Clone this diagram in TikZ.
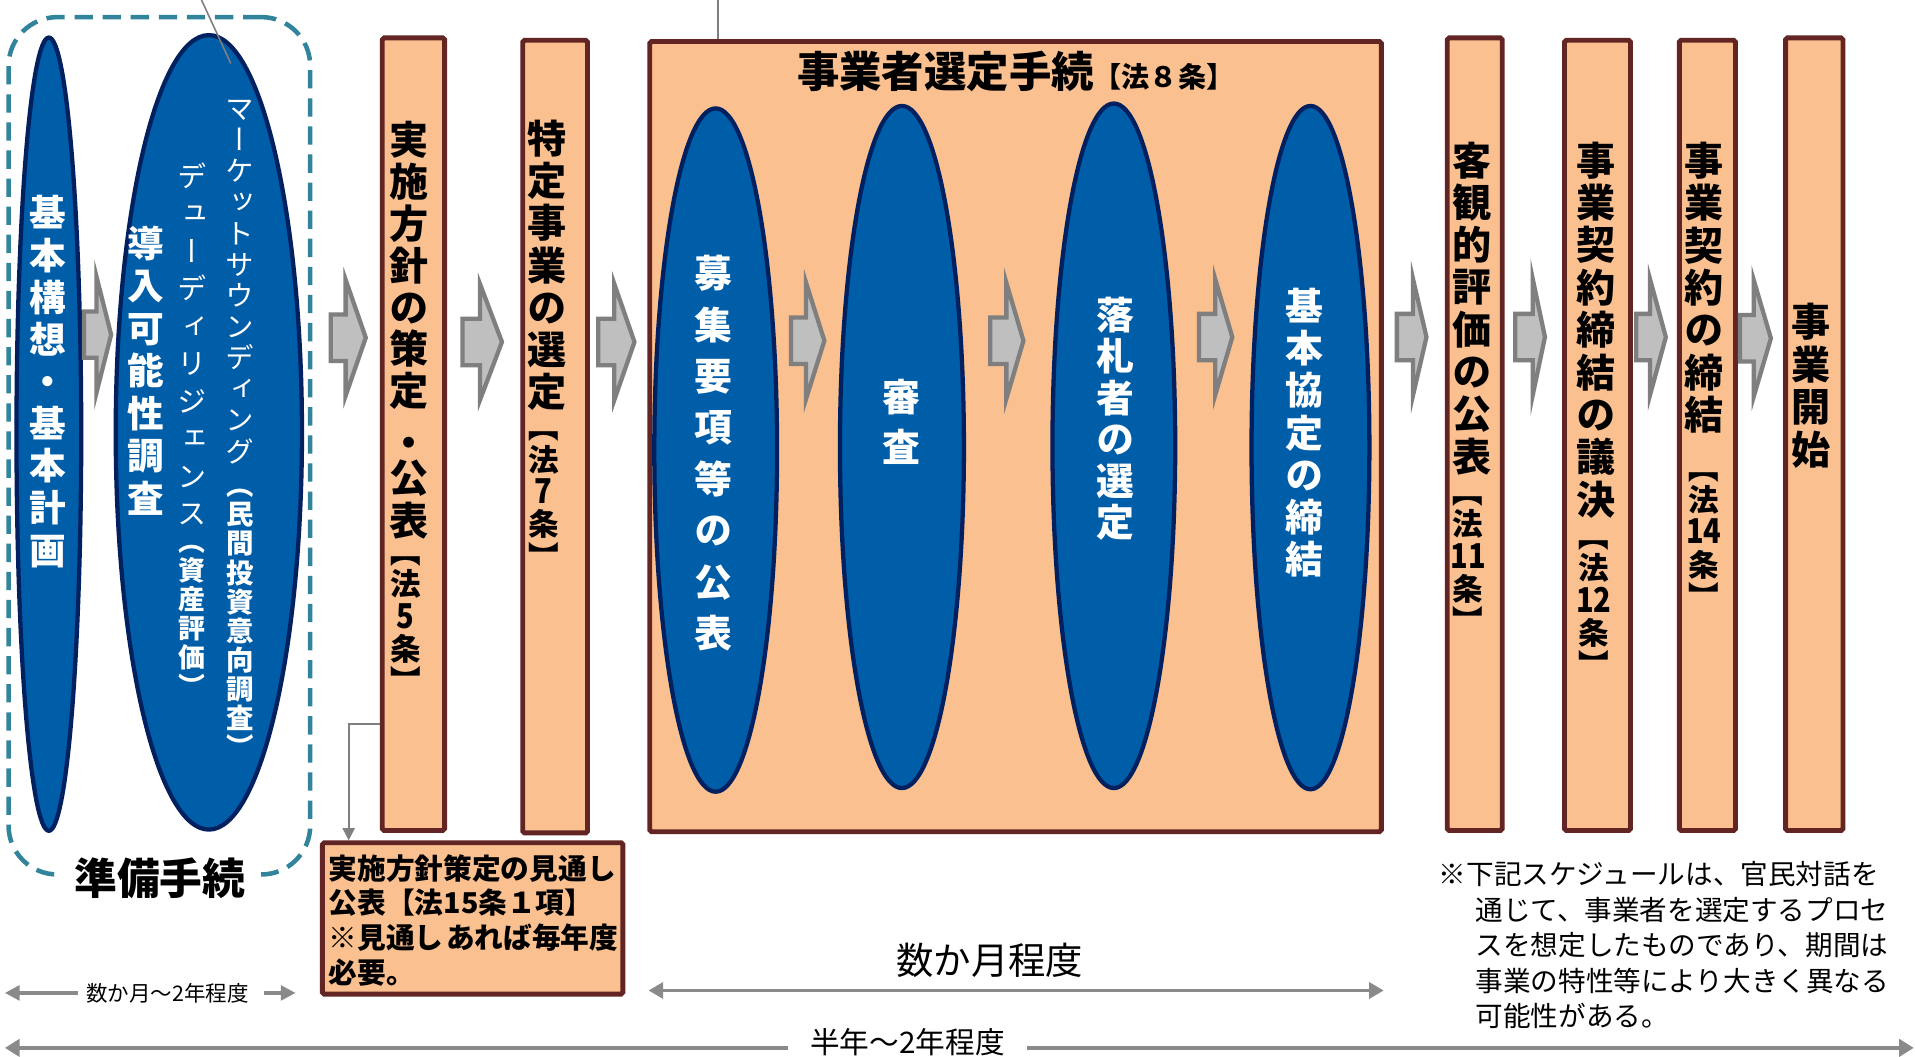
\documentclass[tikz,border=0pt]{standalone}
\usepackage{fontspec}
\usepackage{graphicx}
\setmainfont{Noto Sans CJK JP}
\newfontfamily\vf{Noto Sans CJK JP}[RawFeature=+vert]
\usetikzlibrary{shapes.geometric,arrows.meta}
\definecolor{ellfill}{HTML}{005DA8}
\definecolor{ellline}{HTML}{002060}
\definecolor{boxfill}{HTML}{FAC090}
\definecolor{boxline}{HTML}{632523}
\definecolor{arrfill}{HTML}{BFBFBF}
\definecolor{arrline}{HTML}{7F7F7F}
\definecolor{dashteal}{HTML}{31849B}
\definecolor{lgray}{HTML}{8A8A8A}
\newcommand\vl[1]{\hbox to 1.2em{\hss\vrule height .88em depth .12em width 0pt\relax#1\hss}}
\makeatletter
\def\vt@stop{\vt@stop}
\newcommand\vtxt[3]{\vbox{\vf\fontsize{#1}{#2}\selectfont\baselineskip=#2pt\relax\lineskiplimit=-\maxdimen\lineskip=0pt\relax\vt@a#3\vt@stop}}
\def\vt@a#1{\ifx#1\vt@stop\else\vl{#1}\expandafter\vt@a\fi}
\makeatother
\newcommand\vblock[3]{\vbox{\vf\fontsize{#1}{#2}\selectfont\baselineskip=#2pt\relax\lineskiplimit=-\maxdimen\lineskip=0pt\relax#3}}
\newcommand\tcy[1]{\scalebox{0.95}[1.12]{#1}}
\newcommand\barrow[4]{%
  \draw[barr] ({#1+1.75},{#4-19}) -- ({#2},{#4-19}) -- ({#2},{#4-47.5}) -- ({#3-4},{#4}) -- ({#2},{#4+47.5}) -- ({#2},{#4+19}) -- ({#1+1.75},{#4+19}) -- cycle;}
\begin{document}
\begin{tikzpicture}[x=1pt,y=-1pt,
  ell/.style={ellipse, draw=ellline, fill=ellfill, line width=3.5pt, inner sep=0pt},
  pbox/.style={rectangle, draw=boxline, fill=boxfill, line width=4pt, rounded corners=1.5pt, inner sep=0pt},
  barr/.style={draw=arrline, fill=arrfill, line width=3.5pt, line join=miter},
  vw/.style={anchor=north, inner sep=0pt, text=white, font=\bfseries},
  vwr/.style={anchor=north, inner sep=0pt, text=white},
  vb/.style={anchor=north, inner sep=0pt, text=black, font=\bfseries},
  tline/.style={draw=lgray, line width=3.2pt},
  tsmall/.style={draw=lgray, line width=2.8pt, -{Triangle[length=12pt,width=12pt]}},
  lead/.style={draw=arrline, line width=1.3pt},
  prepbox/.style={rectangle, draw=dashteal, line width=3.7pt, dash pattern=on 15pt off 8pt, rounded corners=40pt, inner sep=0pt}
]
\fill[white] (0,0) rectangle (1568,865);
\useasboundingbox (0,0) rectangle (1568,865);

% preparation group
\node[prepbox, minimum width=247, minimum height=702] (prep) at (130.5,365) {};
\node[ell, minimum width=53, minimum height=649.5] (eA) at (40,355.5) {};
\node[ell, minimum width=152.5, minimum height=650.5] (eB) at (171,354) {};
\node[fill=white, inner xsep=13pt, inner ysep=2pt, font=\fontsize{35}{40}\selectfont\bfseries] (preplbl) at (131,719) {準備手続};

% boxes
\node[pbox, minimum width=51, minimum height=649] (b1) at (338.5,355.5) {};
\node[pbox, minimum width=53, minimum height=649] (b2) at (454.5,357.5) {};
\node[pbox, minimum width=599, minimum height=647] (big) at (831.5,357.5) {};
\node[pbox, minimum width=45, minimum height=649] (b4) at (1207.5,355.5) {};
\node[pbox, minimum width=54, minimum height=647] (b5) at (1308,356.5) {};
\node[pbox, minimum width=46, minimum height=647] (b6) at (1398,356.5) {};
\node[pbox, minimum width=47, minimum height=649] (b7) at (1485.5,355.5) {};
\node[pbox, minimum width=246, minimum height=124] (nb) at (387,752) {};

% ellipses in selection box
\node[ell, minimum width=100.5, minimum height=559.5] (e1) at (586,368.5) {};
\node[ell, minimum width=101.5, minimum height=558.5] (e2) at (738.5,366) {};
\node[ell, minimum width=100.5, minimum height=560.5] (e3) at (912,365) {};
\node[ell, minimum width=96.5, minimum height=559.5] (e4) at (1073,366.5) {};

% block arrows
\barrow{67}{79}{95}{274}
\barrow{269}{283}{303.5}{276.5}
\barrow{377}{393}{415}{280}
\barrow{488}{503}{523.5}{280}
\barrow{646}{660}{679}{279}
\barrow{809}{824}{842}{279}
\barrow{980}{995}{1013}{276}
\barrow{1142}{1157}{1172}{276}
\barrow{1239}{1255}{1269}{276}
\barrow{1338}{1351}{1368}{276}
\barrow{1423}{1436}{1454}{277}

% texts in ellipses A, B
\node[vw] (tA) at (39,159.2) {\vtxt{30}{34.5}{基本構想・基本計画}};
\node[vw] (tB1) at (119,184.2) {\vtxt{30}{34.8}{導入可能性調査}};
\node[vwr] (tB2) at (157,132) {\vtxt{24}{30.7}{デューディリジェンス}};
\node[vw] (tB3) at (157,432) {\vtxt{22}{23.7}{（資産評価）}};
\node[vwr] (tB4) at (196.5,77) {\vtxt{23.5}{25.5}{マーケットサウンディング}};
\node[vw] (tB5) at (196.5,386) {\vtxt{22.5}{23.8}{（民間投資意向調査）}};

% box texts
\node[vb] (t1) at (335,98.1) {\vblock{32}{34.3}{\vl{実}\vl{施}\vl{方}\vl{針}\vl{の}\vl{策}\vl{定}\vskip7.8pt\vl{・}\vskip-5.2pt\vl{公}\vskip0.7pt\vl{表}}};
\node[vb] (t1b) at (332,439) {\vblock{25}{26.5}{\vl{【}\vl{法}\vl{\tcy{5}}\vl{条}\vl{】}}};
\node[vb] (t2) at (448,97.1) {\vtxt{32}{34.6}{特定事業の選定}};
\node[vb] (t2b) at (445,337) {\vblock{25}{26.5}{\vl{【}\vl{法}\vl{\tcy{7}}\vl{条}\vl{】}}};
\node[anchor=base west, inner sep=0pt, font=\bfseries] (ttl) at (652.5,72) {{\fontsize{34.7}{40}\selectfont 事業者選定手続}{\fontsize{23}{26}\selectfont 【法８条】}};
\node[vw] (te1) at (584,208.1) {\vtxt{31}{42.1}{募集要項等の公表}};
\node[vw] (te2) at (738,309.1) {\vtxt{31}{41}{審査}};
\node[vw] (te3) at (913,242.1) {\vtxt{31}{34}{落札者の選定}};
\node[vw] (te4) at (1068,235.1) {\vtxt{31}{34.5}{基本協定の締結}};
\node[vb] (t4) at (1205,115.1) {\vtxt{32}{34.6}{客観的評価の公表}};
\node[vb] (t4b) at (1202,390) {\vblock{25}{26.5}{\vl{【}\vl{法}\vl{\tcy{11}}\vl{条}\vl{】}}};
\node[vb] (t5) at (1307,115.1) {\vtxt{32}{34.7}{事業契約締結の議決}};
\node[vb] (t5b) at (1305,426) {\vblock{25}{26.5}{\vl{【}\vl{法}\vl{\tcy{12}}\vl{条}\vl{】}}};
\node[vb] (t6) at (1395,115.1) {\vtxt{32}{34.75}{事業契約の締結}};
\node[vb] (t6b) at (1395,370) {\vblock{25}{26.5}{\vl{【}\vl{法}\vl{\tcy{14}}\vl{条}\vl{】}}};
\node[vb] (t7) at (1482.5,247.1) {\vtxt{32}{35}{事業開始}};

% note box text
\node[anchor=base west, inner sep=0pt, font=\bfseries] (nbt) at (269,720) {\vtop{\fontsize{23.5}{28.3}\selectfont
  \hbox{実施方針策定の見通し}\hbox{公表【法15条１項】}\hbox{※見通し\hspace{2pt}あれば毎年度}\hbox{必要。}}};

% connector to note box
\coordinate (cbend) at (285.5,593);
\draw[draw=arrline, line width=1.5pt, -{Triangle[length=10pt,width=10pt]}] (b1.west |- cbend) -- (cbend) -- (cbend |- nb.north);

% leader lines
\coordinate (la) at (165,0);
\coordinate (lb) at (189,52);
\draw[lead] (la) -- (lb);
\coordinate (lc) at (588,0);
\draw[lead] (lc) -- (lc |- big.north);

% right note
\node[anchor=base west, inner sep=0pt] (rn) at (1178,724.6) {\vtop{\fontsize{22.6}{29}\selectfont
  \hbox{※下記スケジュールは、官民対話を}
  \hbox{\hspace{30pt}通じて、事業者を選定するプロセ}
  \hbox{\hspace{30pt}スを想定したものであり、期間は}
  \hbox{\hspace{30pt}事業の特性等により大きく異なる}
  \hbox{\hspace{30pt}可能性がある。}}};

% timelines
\coordinate (sa1) at (64,813);
\coordinate (sa2) at (4,813);
\coordinate (sb1) at (216,813);
\coordinate (sb2) at (242,813);
\draw[tsmall] (sa1) -- (sa2);
\draw[tsmall] (sb1) -- (sb2);
\node[inner sep=0pt, font=\fontsize{17.6}{20}\selectfont] (sml) at (137,813) {数か月～2年程度};

\coordinate (ma) at (531,811);
\coordinate (mb) at (1133,811);
\draw[tline, {Triangle[length=12pt,width=13pt]}-{Triangle[length=12pt,width=13pt]}] (ma) -- (mb);
\node[inner sep=0pt, font=\fontsize{30.6}{34}\selectfont] (mid) at (810.5,786.5) {数か月程度};

\coordinate (La) at (4,858);
\coordinate (Lb) at (1567,858);
\draw[tline, {Triangle[length=12pt,width=14pt]}-{Triangle[length=12pt,width=14pt]}] (La) -- (Lb);
\node[fill=white, inner xsep=18pt, inner ysep=1pt, font=\fontsize{24.3}{28}\selectfont] (lng) at (743,853) {半年～2年程度};
\end{tikzpicture}
\end{document}
